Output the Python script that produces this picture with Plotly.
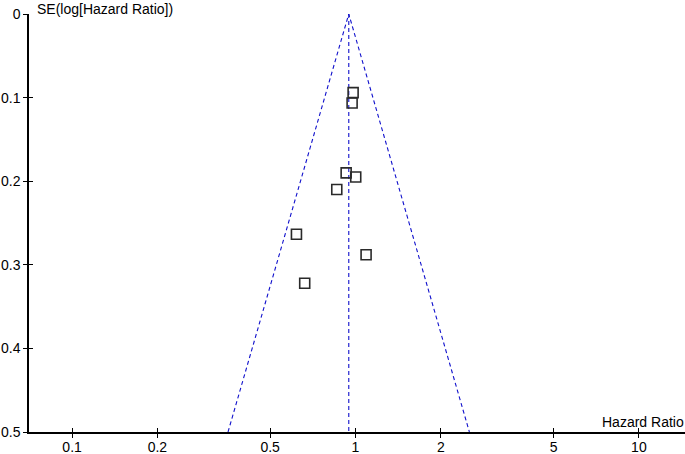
import plotly.graph_objects as go

# Study estimates
hazard_ratio = [0.981, 0.973, 0.927, 1.002, 0.859, 0.619, 1.090, 0.662]
se_log_hr = [0.094, 0.1065, 0.190, 0.195, 0.210, 0.2635, 0.288, 0.322]

# Funnel (pooled estimate and 95% limits at SE = 0.5)
funnel_hr = [0.355, 0.947, 2.523]
funnel_se = [0.5, 0.0, 0.5]
pooled_hr = [0.947, 0.947]
pooled_se = [0.0, 0.5]

x_tickvals = [0.1, 0.2, 0.5, 1, 2, 5, 10]
x_ticktext = ["0.1", "0.2", "0.5", "1", "2", "5", "10"]
y_tickvals = [0, 0.1, 0.2, 0.3, 0.4, 0.5]
y_ticktext = ["0", "0.1", "0.2", "0.3", "0.4", "0.5"]

x_range = [-1.152, 1.1627]
y_range = [0.5, 0.0]

BLUE = "#1010cc"
FONT = "Liberation Sans, Arial, sans-serif"

fig = go.Figure()
fig.add_trace(go.Scatter(x=funnel_hr, y=funnel_se, mode="lines",
                         line=dict(color=BLUE, width=1.1, dash="4px,3px"),
                         hoverinfo="skip", showlegend=False))
fig.add_trace(go.Scatter(x=pooled_hr, y=pooled_se, mode="lines",
                         line=dict(color=BLUE, width=1.1, dash="4px,3px"),
                         hoverinfo="skip", showlegend=False))
fig.add_trace(go.Scatter(x=hazard_ratio, y=se_log_hr, mode="markers",
                         marker=dict(symbol="square-open", size=10,
                                     color="#2a2a2a", line=dict(width=1.6, color="#2a2a2a")),
                         showlegend=False))

common = dict(showgrid=False, zeroline=False, linecolor="black", linewidth=1.5,
              tickcolor="black", ticklen=4, tickwidth=1,
              tickfont=dict(family=FONT, size=14, color="black"))

fig.update_layout(
    width=685, height=454,
    margin=dict(l=29, r=0, t=14, b=22, autoexpand=False),
    paper_bgcolor="white", plot_bgcolor="white",
    font=dict(family=FONT, size=14, color="black"),
    xaxis=dict(type="log", range=x_range, tickvals=x_tickvals, ticktext=x_ticktext,
               ticks="outside", showline=True, automargin=False,
               ticklabelstandoff=-3, **common),
    yaxis=dict(range=y_range, tickvals=y_tickvals, ticktext=y_ticktext,
               ticks="outside", showline=True, automargin=False, **common),
    xaxis2=dict(type="log", range=x_range, tickvals=x_tickvals, overlaying="x",
                side="bottom", ticks="inside", showticklabels=False, showgrid=False,
                zeroline=False, showline=False, tickcolor="black", ticklen=4, tickwidth=1),
    yaxis2=dict(range=y_range, tickvals=y_tickvals, overlaying="y", side="left",
                ticks="inside", showticklabels=False, showgrid=False, zeroline=False,
                showline=False, tickcolor="black", ticklen=4, tickwidth=1),
    annotations=[
        dict(text="SE(log[Hazard Ratio])", xref="paper", yref="paper", x=0, y=1,
             xanchor="left", yanchor="middle", xshift=6, yshift=5, showarrow=False,
             font=dict(family=FONT, size=14, color="black")),
        dict(text="Hazard Ratio", xref="paper", yref="paper", x=1, y=0,
             xanchor="right", yanchor="middle", xshift=1, yshift=10, showarrow=False,
             font=dict(family=FONT, size=14, color="black")),
    ],
)
# invisible trace on overlay axes so they render
fig.add_trace(go.Scatter(x=[1], y=[0.25], xaxis="x2", yaxis="y2", mode="markers",
                         marker=dict(opacity=0), hoverinfo="skip", showlegend=False))

fig.write_html("out.html", config={"displayModeBar": False},
               post_script="document.body.style.margin='0';document.body.style.overflow='hidden';")
